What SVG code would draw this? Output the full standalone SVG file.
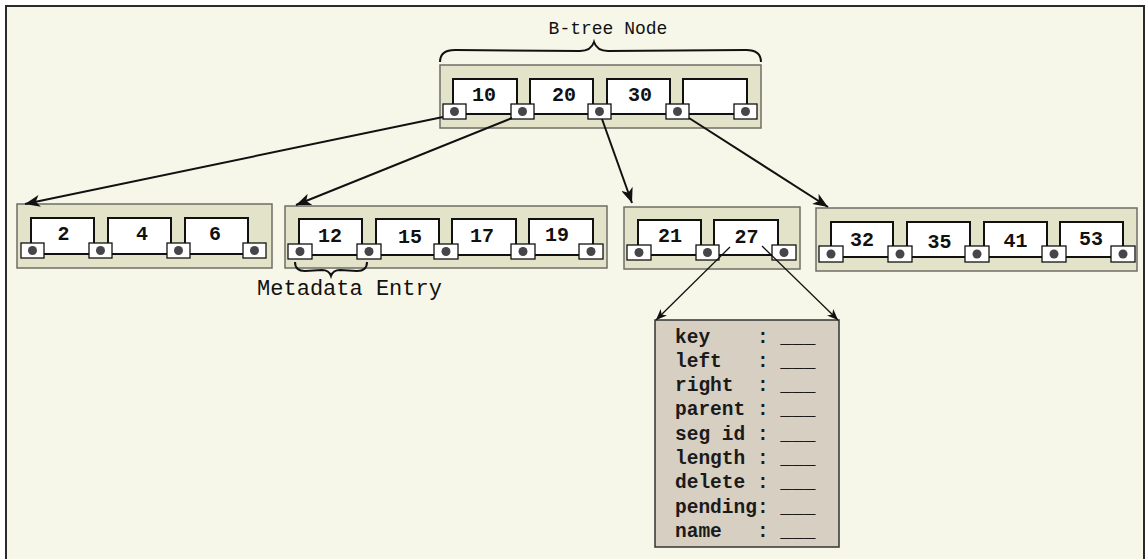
<svg xmlns="http://www.w3.org/2000/svg" width="1146" height="559" viewBox="0 0 1146 559">
<defs>
<style>
.bg{fill:#f7f7e9;stroke:#2a2a2a;stroke-width:2}
.cont{fill:#e3e3c9;stroke:#6e6e66;stroke-width:1.5}
.key{fill:#ffffff;stroke:#111;stroke-width:2}
.ptr{fill:#ffffff;stroke:#111;stroke-width:1.3}
.dot{fill:#46464a}
.kt{font-family:"Liberation Mono","Courier New",monospace;font-weight:bold;font-size:20px;fill:#111;text-anchor:middle}
.lbl{font-family:"Liberation Mono","Courier New",monospace;fill:#111;text-anchor:middle}
.meta{fill:#d7cfc1;stroke:#333;stroke-width:1.5}
.mt{font-family:"Liberation Mono","Courier New",monospace;font-weight:bold;font-size:19.5px;fill:#1a1a1a;white-space:pre}
.edge{fill:none;stroke:#111;stroke-width:2}
.edge2{fill:none;stroke:#111;stroke-width:1.3}
.brace{fill:none;stroke:#111;stroke-width:2}
</style>
<marker id="ah" markerUnits="userSpaceOnUse" markerWidth="16" markerHeight="12" refX="15" refY="6" orient="auto">
<path d="M0,0 L15,6 L0,12 L4,6 z" fill="#111"/>
</marker>
<marker id="ah2" markerUnits="userSpaceOnUse" markerWidth="12" markerHeight="10" refX="11" refY="4.5" orient="auto">
<path d="M0,0 L11,4.5 L0,9 L3,4.5 z" fill="#111"/>
</marker>
</defs>
<rect class="bg" x="6" y="6" width="1138" height="600"/>

<g id="root">
<path class="brace" d="M440,62 Q440,50 455,50 L580,51 Q591,51 594,42 Q597,51 608,51 L746,50 Q761,50 761,62"/>
<text class="lbl" x="608" y="34" font-size="18">B-tree Node</text>
<rect class="cont" x="440" y="65" width="321" height="63"/>
<rect class="key" x="453" y="79" width="64" height="35"/>
<rect class="key" x="530" y="79" width="63" height="35"/>
<rect class="key" x="607" y="79" width="63" height="35"/>
<rect class="key" x="683" y="79" width="64" height="35"/>
<text class="kt" x="484" y="101">10</text>
<text class="kt" x="564" y="101">20</text>
<text class="kt" x="640" y="101">30</text>
<rect class="ptr" x="443" y="104" width="23" height="15"/><circle class="dot" cx="454.5" cy="111.5" r="4.5"/>
<rect class="ptr" x="511" y="104" width="23" height="15"/><circle class="dot" cx="522.5" cy="111.5" r="4.5"/>
<rect class="ptr" x="588" y="104" width="23" height="15"/><circle class="dot" cx="599.5" cy="111.5" r="4.5"/>
<rect class="ptr" x="666" y="104" width="23" height="15"/><circle class="dot" cx="677.5" cy="111.5" r="4.5"/>
<rect class="ptr" x="734" y="104" width="23" height="15"/><circle class="dot" cx="745.5" cy="111.5" r="4.5"/>
</g>

<g id="leaf1">
<rect class="cont" x="17" y="204" width="255" height="64"/>
<rect class="key" x="31" y="218" width="63" height="36"/>
<rect class="key" x="108" y="218" width="63" height="36"/>
<rect class="key" x="185" y="218" width="63" height="36"/>
<text class="kt" x="63.5" y="240">2</text>
<text class="kt" x="142" y="240">4</text>
<text class="kt" x="215" y="240">6</text>
<rect class="ptr" x="21" y="243" width="23" height="15"/><circle class="dot" cx="32.5" cy="250.5" r="4.5"/>
<rect class="ptr" x="89" y="243" width="23" height="15"/><circle class="dot" cx="100.5" cy="250.5" r="4.5"/>
<rect class="ptr" x="167" y="243" width="23" height="15"/><circle class="dot" cx="178.5" cy="250.5" r="4.5"/>
<rect class="ptr" x="243" y="243" width="23" height="15"/><circle class="dot" cx="254.5" cy="250.5" r="4.5"/>
</g>

<g id="leaf2">
<rect class="cont" x="285" y="206" width="322" height="62"/>
<rect class="key" x="299" y="219" width="63" height="36"/>
<rect class="key" x="376" y="219" width="63" height="36"/>
<rect class="key" x="452" y="219" width="64" height="36"/>
<rect class="key" x="529" y="219" width="64" height="36"/>
<text class="kt" x="330" y="242">12</text>
<text class="kt" x="410" y="243">15</text>
<text class="kt" x="482" y="242">17</text>
<text class="kt" x="557" y="241">19</text>
<rect class="ptr" x="288" y="244" width="24" height="15"/><circle class="dot" cx="300" cy="251.5" r="4.5"/>
<rect class="ptr" x="357" y="244" width="24" height="15"/><circle class="dot" cx="369" cy="251.5" r="4.5"/>
<rect class="ptr" x="434" y="244" width="24" height="15"/><circle class="dot" cx="446" cy="251.5" r="4.5"/>
<rect class="ptr" x="511" y="244" width="24" height="15"/><circle class="dot" cx="523" cy="251.5" r="4.5"/>
<rect class="ptr" x="579" y="244" width="24" height="15"/><circle class="dot" cx="591" cy="251.5" r="4.5"/>
<path class="brace" d="M295,262 Q295,271 305,271 L322,270 Q329,270 331,276 Q333,270 340,270 L357,271 Q367,271 367,262"/>
<text class="lbl" x="349.5" y="295" font-size="22">Metadata Entry</text>
</g>

<g id="leaf3">
<rect class="cont" x="624" y="207" width="176" height="62"/>
<rect class="key" x="638" y="220" width="63" height="35"/>
<rect class="key" x="714" y="220" width="64" height="35"/>
<text class="kt" x="670" y="242">21</text>
<text class="kt" x="746.5" y="243">27</text>
<rect class="ptr" x="627" y="245" width="24" height="15"/><circle class="dot" cx="639" cy="252.5" r="4.5"/>
<rect class="ptr" x="696" y="245" width="23" height="15"/><circle class="dot" cx="707.5" cy="252.5" r="4.5"/>
<rect class="ptr" x="772" y="245" width="24" height="15"/><circle class="dot" cx="784" cy="252.5" r="4.5"/>
</g>

<g id="leaf4">
<rect class="cont" x="816" y="208" width="321" height="63"/>
<rect class="key" x="831" y="222" width="62" height="35"/>
<rect class="key" x="907" y="222" width="63" height="35"/>
<rect class="key" x="984" y="222" width="63" height="35"/>
<rect class="key" x="1060" y="222" width="63" height="35"/>
<text class="kt" x="862" y="246">32</text>
<text class="kt" x="939.5" y="248">35</text>
<text class="kt" x="1015.5" y="247">41</text>
<text class="kt" x="1091" y="245">53</text>
<rect class="ptr" x="819" y="246" width="24" height="16"/><circle class="dot" cx="831" cy="254" r="4.5"/>
<rect class="ptr" x="888" y="246" width="24" height="16"/><circle class="dot" cx="900" cy="254" r="4.5"/>
<rect class="ptr" x="965" y="246" width="24" height="16"/><circle class="dot" cx="977" cy="254" r="4.5"/>
<rect class="ptr" x="1042" y="246" width="24" height="16"/><circle class="dot" cx="1054" cy="254" r="4.5"/>
<rect class="ptr" x="1111" y="246" width="24" height="16"/><circle class="dot" cx="1123" cy="254" r="4.5"/>
</g>

<g id="metadata">
<rect class="meta" x="655" y="320" width="184" height="227"/>
<text class="mt" x="675" y="343" xml:space="preserve">key    : ___</text>
<text class="mt" x="675" y="367" xml:space="preserve">left   : ___</text>
<text class="mt" x="675" y="391" xml:space="preserve">right  : ___</text>
<text class="mt" x="675" y="415" xml:space="preserve">parent : ___</text>
<text class="mt" x="675" y="440" xml:space="preserve">seg id : ___</text>
<text class="mt" x="675" y="464" xml:space="preserve">length : ___</text>
<text class="mt" x="675" y="488" xml:space="preserve">delete : ___</text>
<text class="mt" x="675" y="513" xml:space="preserve">pending: ___</text>
<text class="mt" x="675" y="537" xml:space="preserve">name   : ___</text>
</g>

<g id="connectors">
<line class="edge" x1="443" y1="117" x2="25" y2="204" marker-end="url(#ah)"/>
<line class="edge" x1="512" y1="118" x2="296" y2="205" marker-end="url(#ah)"/>
<line class="edge" x1="602" y1="119" x2="632" y2="203" marker-end="url(#ah)"/>
<line class="edge" x1="689" y1="118" x2="828" y2="207" marker-end="url(#ah)"/>
<line class="edge2" x1="730" y1="247" x2="656" y2="320" marker-end="url(#ah2)"/>
<line class="edge2" x1="762" y1="246" x2="838" y2="320" marker-end="url(#ah2)"/>
</g>
</svg>
